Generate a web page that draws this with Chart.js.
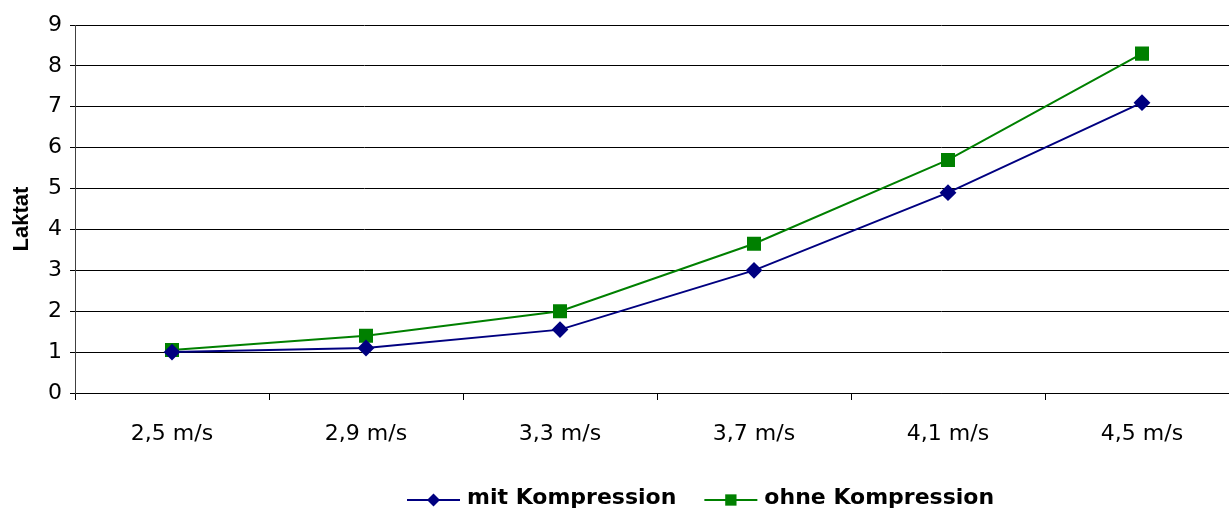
<!DOCTYPE html>
<html><head><meta charset="utf-8">
<script src="https://cdn.jsdelivr.net/npm/chart.js@4/dist/chart.umd.min.js"></script>
<style>
html,body{margin:0;padding:0;background:#fff;overflow:hidden;}
#wrap{width:1229px;height:513px;position:relative;}
</style></head>
<body><div id="wrap"><canvas id="c"></canvas></div>
<script>
const categories = ['2,5 m/s','2,9 m/s','3,3 m/s','3,7 m/s','4,1 m/s','4,5 m/s'];
const mitKompression = [1.0, 1.1, 1.55, 3.0, 4.9, 7.1];
const ohneKompression = [1.05, 1.4, 2.0, 3.65, 5.7, 8.3];
const seriesNames = ['mit Kompression','ohne Kompression'];
const yTitle = 'Laktat';

const tickFont = {family:'DejaVu Sans', size:22};
const PLOT_OVERHANG = 10; // plot area continues past the right edge of the picture

const extendPlugin = {
  id:'extendRight',
  afterLayout(chart){
    const ca = chart.chartArea;
    ca.right = chart.width + PLOT_OVERHANG;
    ca.width = ca.right - ca.left;
    const xs = chart.scales.x;
    xs.right = ca.right;
    xs.width = xs.right - xs.left;
    xs.configure();
  }
};

const legendPlugin = {
  id:'customLegend',
  afterDraw(chart){
    const ctx = chart.ctx;
    ctx.save();
    ctx.font = 'bold 22px "Liberation Sans"';
    ctx.fillStyle = '#000';
    ctx.textAlign = 'center';
    ctx.textBaseline = 'middle';
    ctx.translate(22, (chart.chartArea.top + chart.chartArea.bottom)/2 + 10);
    ctx.rotate(-Math.PI/2);
    ctx.fillText(yTitle, 0, 0);
    ctx.restore();

    ctx.save();
    const y = 500;
    let x = 407;
    ctx.font = 'bold 22px "DejaVu Sans"';
    ctx.textBaseline = 'middle';
    const legendRadius = [6.5, 8];
    chart.data.datasets.forEach((ds,i)=>{
      const lineLen = 53;
      ctx.strokeStyle = ds.borderColor; ctx.lineWidth = 2;
      ctx.beginPath(); ctx.moveTo(x,y); ctx.lineTo(x+lineLen,y); ctx.stroke();
      ctx.fillStyle = ds.pointBackgroundColor;
      ctx.beginPath();
      const cx = x + lineLen/2;
      const r = legendRadius[i];
      if(ds.pointStyle==='rectRot'){
        ctx.moveTo(cx,y-r);ctx.lineTo(cx+r,y);ctx.lineTo(cx,y+r);ctx.lineTo(cx-r,y);ctx.closePath();
      } else {
        const s=Math.SQRT1_2*r;
        ctx.rect(cx-s,y-s,2*s,2*s);
      }
      ctx.fill();
      x += lineLen + 7;
      ctx.fillStyle = '#000';
      ctx.fillText(ds.label, x, y - 2);
      x += ctx.measureText(ds.label).width + 28;
    });
    ctx.restore();
  }
};

new Chart(document.getElementById('c'), {
  type:'line',
  data:{
    labels:categories,
    datasets:[
      {label:seriesNames[0], data:mitKompression, borderColor:'#000080', backgroundColor:'#000080',
       pointBackgroundColor:'#000080', pointBorderColor:'#000080', pointStyle:'rectRot', pointRadius:7, pointHoverRadius:7, borderWidth:2, tension:0},
      {label:seriesNames[1], data:ohneKompression, borderColor:'#008000', backgroundColor:'#008000',
       pointBackgroundColor:'#008000', pointBorderColor:'#008000', pointStyle:'rect', pointRadius:8.5, pointHoverRadius:8.5, borderWidth:2, tension:0}
    ]
  },
  options:{
    responsive:true, maintainAspectRatio:false, animation:false,
    layout:{padding:{top:25,right:0,left:0,bottom:0}},
    plugins:{legend:{display:false}, tooltip:{enabled:false}},
    scales:{
      x:{
        offset:true,
        grid:{offset:true, drawOnChartArea:false, drawTicks:true, tickLength:7, color:'#000', tickColor:'#000'},
        border:{display:true, color:'#000', width:1},
        ticks:{font:tickFont, color:'#000', padding:21, maxRotation:0, autoSkip:false},
        afterFit(s){ s.height = 120; }
      },
      y:{
        min:0, max:9,
        grid:{color:'#000', tickLength:5, tickColor:'#000', lineWidth:1},
        border:{display:true, color:'#404040', width:1},
        ticks:{stepSize:1, font:tickFont, color:'#000', padding:8},
        afterFit(s){ s.width = 75; }
      }
    }
  },
  plugins:[extendPlugin, legendPlugin]
});
</script>
</body></html>
